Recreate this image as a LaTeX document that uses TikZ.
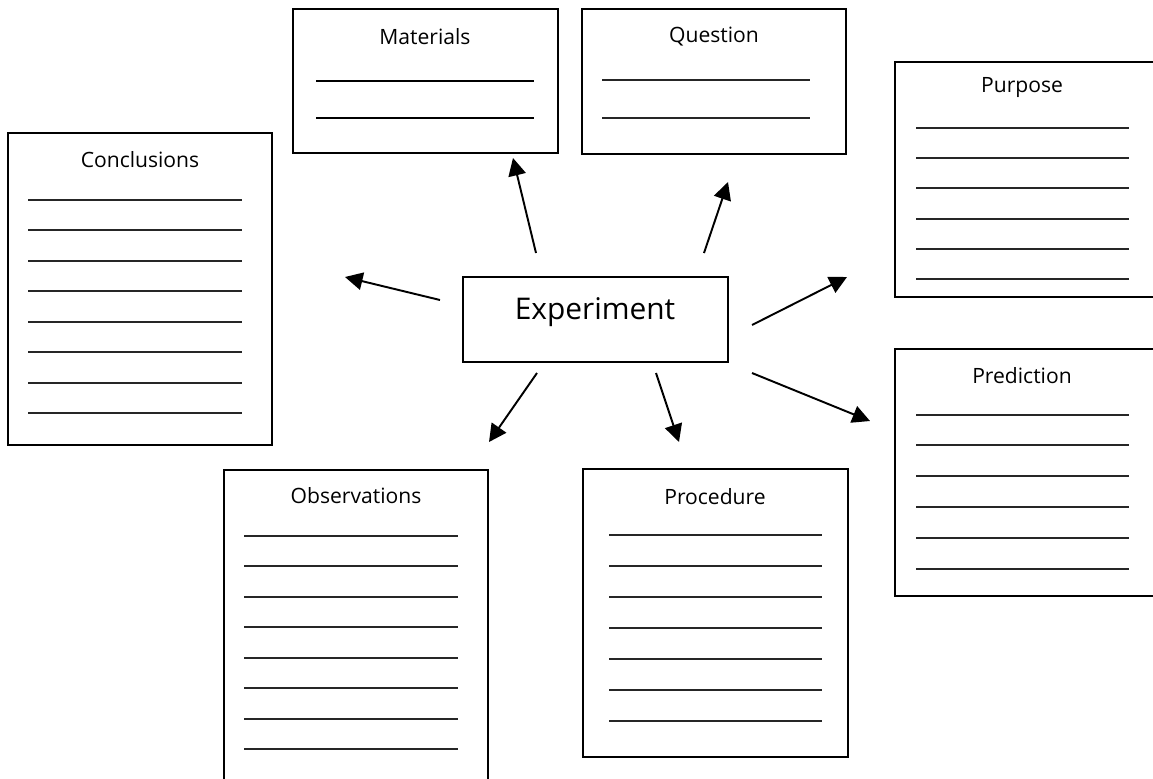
\documentclass[tikz,border=0pt]{standalone}
\usepackage{fontspec}
\setmainfont{Open Sans}
\usetikzlibrary{arrows.meta}

\tikzset{
  card/.style={line width=1.1pt},
  blank/.style={line width=0.04cm, black!85},
  thickblank/.style={line width=0.05cm, black},
  title/.style={font=\fontsize{12}{14}\selectfont},
  link/.style={-{Triangle[length=10pt,width=10pt]}, line width=1.1pt}
}

\begin{document}
\begin{tikzpicture}[x=0.02cm, y=-0.02cm]
  \clip (0,0) rectangle (1153,778);

  % centre box
  \draw[card] (463,277) rectangle (728,362);
  \node at (595,312) (exp) {\fontsize{17}{20}\selectfont Experiment};

  % top row
  \draw[card] (293,9) rectangle (558,153);
  \node[title] at (425,37) (mat) {Materials};
  \foreach \y in {81,118}
    \draw[thickblank] (316,\y) -- (534,\y);

  \draw[card] (582,9) rectangle (846,154);
  \node[title] at (714,37) (ques) {Question};
  \foreach \y in {80,118}
    \draw[blank] (602,\y) -- (810,\y);

  % right column
  \draw[card] (895,62) rectangle (1170,297);
  \node[title] at (1022,88) (purp) {Purpose};
  \foreach \i in {0,...,5}{
    \pgfmathtruncatemacro\yy{128+30.4*\i}
    \draw[blank] (916,\yy) -- (1129,\yy);}

  \draw[card] (895,349) rectangle (1170,596);
  \node[title] at (1022,376) (pred) {Prediction};
  \foreach \i in {0,...,5}{
    \pgfmathtruncatemacro\yy{415+30.8*\i}
    \draw[blank] (916,\yy) -- (1129,\yy);}

  % left and bottom
  \draw[card] (8,133) rectangle (272,445);
  \node[title] at (140,160) (concl) {Conclusions};
  \foreach \i in {0,...,7}{
    \pgfmathtruncatemacro\yy{200+30.5*\i}
    \draw[blank] (28,\yy) -- (242,\yy);}

  \draw[card] (224,470) rectangle (488,800);
  \node[title] at (356,496) (obs) {Observations};
  \foreach \i in {0,...,7}{
    \pgfmathtruncatemacro\yy{536+30.5*\i}
    \draw[blank] (244,\yy) -- (458,\yy);}

  \draw[card] (583,469) rectangle (848,757);
  \node[title] at (715,497) (proc) {Procedure};
  \foreach \i in {0,...,6}
    \draw[blank] (609,535+31*\i) -- (822,535+31*\i);

  % arrow ends
  \coordinate (matS) at (536,253);   \coordinate (matT) at (513,158);
  \coordinate (quesS) at (704,253);  \coordinate (quesT) at (728,182);
  \coordinate (conclS) at (440,300); \coordinate (conclT) at (345,277);
  \coordinate (purpS) at (752,325);  \coordinate (purpT) at (847,277);
  \coordinate (predS) at (752,373);  \coordinate (predT) at (870,421);
  \coordinate (obsS) at (537,373);   \coordinate (obsT) at (489,442);
  \coordinate (procS) at (656,373);  \coordinate (procT) at (679,442);

  \foreach \n in {mat,ques,concl,purp,pred,obs,proc}
    \draw[link] (\n S) -- (\n T);
\end{tikzpicture}
\end{document}
